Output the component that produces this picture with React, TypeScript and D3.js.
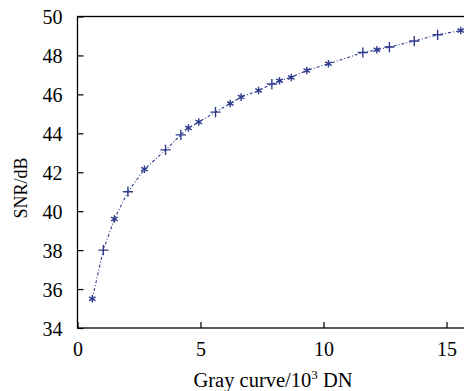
import React, { useEffect, useRef } from 'react';
import * as d3 from 'd3';

// gray level (10^3 DN) vs SNR (dB)
const grayValues = [0.6, 1.05, 1.5, 2.05, 2.72, 3.58, 4.2, 4.51, 4.93, 5.61, 6.21, 6.65, 7.36, 7.9, 8.21, 8.69, 9.32, 10.2, 11.6, 12.17, 12.68, 13.69, 14.64, 15.58];
const snrValues = [35.5, 38.0, 39.6, 41.0, 42.15, 43.15, 43.92, 44.27, 44.58, 45.09, 45.53, 45.86, 46.2, 46.53, 46.7, 46.87, 47.23, 47.57, 48.15, 48.29, 48.43, 48.74, 49.06, 49.28];
const markerKinds = ['*', '+', '*', '+', '*', '+', '+', '*', '*', '+', '*', '*', '*', '+', '*', '*', '*', '*', '+', '*', '+', '+', '+', '*'];
const xTicks = [0, 5, 10, 15];
const yTicks = [34, 36, 38, 40, 42, 44, 46, 48, 50];

export default function App() {
  const chartRef = useRef<SVGSVGElement>(null);

  useEffect(() => {
    if (!chartRef.current) return;
    document.body.style.margin = '0';
    document.body.style.overflow = 'hidden';
    const svg = d3.select(chartRef.current);
    svg.selectAll('*').remove();

    const W = 464, H = 391;
    const margin = { top: 16.5, left: 77.5, bottom: 63 };
    const x = d3.scaleLinear().domain([0, 16]).range([margin.left, margin.left + 16 * 24.6]);
    const y = d3.scaleLinear().domain([34, 50]).range([H - margin.bottom, margin.top]);
    const font = '"Liberation Serif", "Times New Roman", serif';
    const color = '#2e3b8c';

    svg.attr('width', W).attr('height', H);

    // frame (right side falls outside the crop)
    svg.append('rect')
      .attr('x', x(0)).attr('y', y(50))
      .attr('width', x(16) - x(0)).attr('height', y(34) - y(50))
      .attr('fill', 'none').attr('stroke', '#000').attr('stroke-width', 1.3);

    // inward ticks
    const yAxis = svg.append('g')
      .attr('transform', `translate(${x(0)},0)`)
      .call(d3.axisLeft(y).tickValues(yTicks).tickSizeInner(-6).tickSizeOuter(0).tickPadding(15));
    yAxis.select('.domain').remove();
    yAxis.selectAll('line').attr('stroke', '#000').attr('stroke-width', 1.2);
    yAxis.selectAll('text').style('font-family', font).style('font-size', '20px').attr('fill', '#000').attr('dy', '0.36em');

    const xAxis = svg.append('g')
      .attr('transform', `translate(0,${y(34)})`)
      .call(d3.axisBottom(x).tickValues(xTicks).tickSizeInner(-6).tickSizeOuter(0).tickPadding(14));
    xAxis.select('.domain').remove();
    xAxis.selectAll('line').attr('stroke', '#000').attr('stroke-width', 1.2);
    xAxis.selectAll('text').style('font-family', font).style('font-size', '20px').attr('fill', '#000');

    const pts = grayValues.map((g, i) => ({ g, s: snrValues[i], k: markerKinds[i] }));

    const line = d3.line<{ g: number; s: number }>().x(d => x(d.g)).y(d => y(d.s));
    svg.append('path')
      .datum(pts)
      .attr('d', line)
      .attr('fill', 'none')
      .attr('stroke', color)
      .attr('stroke-width', 1.1)
      .attr('stroke-dasharray', '3,2,1,2');

    const star = d3.symbol().type(d3.symbolAsterisk).size(40);
    const plus = d3.symbol().type(d3.symbolPlus).size(36);
    svg.append('g').selectAll('path')
      .data(pts)
      .enter()
      .append('path')
      .attr('transform', d => `translate(${x(d.g)},${y(d.s)})`)
      .attr('d', d => (d.k === '*' ? star() : plus()) as string)
      .attr('fill', 'none')
      .attr('stroke', color)
      .attr('stroke-width', 1.4);

    // axis titles
    const xl = svg.append('text')
      .attr('x', 273).attr('y', 387)
      .attr('text-anchor', 'middle')
      .style('font-family', font).style('font-size', '20.5px').attr('fill', '#000');
    xl.append('tspan').text('Gray curve/10');
    xl.append('tspan').attr('dy', -8).style('font-size', '13px').text('3');
    xl.append('tspan').attr('dy', 8).text(' DN');

    svg.append('text')
      .attr('transform', `translate(27,188) rotate(-90)`)
      .attr('text-anchor', 'middle')
      .style('font-family', font).style('font-size', '18px').attr('fill', '#000')
      .text('SNR/dB');
  }, []);

  return (
    <div style={{ width: 464, height: 391, overflow: 'hidden', background: '#fff' }}>
      <svg ref={chartRef} style={{ display: 'block' }}></svg>
    </div>
  );
}
